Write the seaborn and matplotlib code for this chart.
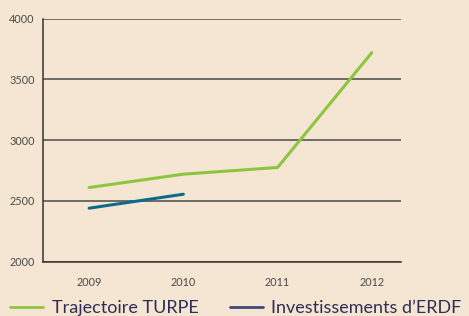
import matplotlib
matplotlib.use("Agg")
import matplotlib.pyplot as plt
import seaborn as sns
import pandas as pd
from matplotlib.lines import Line2D

years_turpe = [2009, 2010, 2011, 2012]
turpe = [2610, 2720, 2775, 3720]
years_erdf = [2009, 2010]
erdf = [2440, 2555]
series_names = ["Trajectoire TURPE", "Investissements d\u2019ERDF"]
yticks = [2000, 2500, 3000, 3500, 4000]
xticks = [2009, 2010, 2011, 2012]

bg = "#f5e6d3"
line_colors = ["#8cc63f", "#0e6a8c"]
legend_colors = ["#8cc63f", "#3d4a7a"]

df = pd.DataFrame({
    "year": years_turpe + years_erdf,
    "value": turpe + erdf,
    "series": [series_names[0]] * len(turpe) + [series_names[1]] * len(erdf),
})

sns.set_theme(style="white")
plt.rcParams["font.family"] = ["Lato", "DejaVu Sans"]

fig = plt.figure(figsize=(4.69, 3.16), dpi=100, facecolor=bg)
ax = fig.add_axes([0.0917, 0.172, 0.855 - 0.0917, 0.941 - 0.172])
ax.set_facecolor(bg)

sns.lineplot(data=df, x="year", y="value", hue="series",
             palette=dict(zip(series_names, line_colors)),
             linewidth=2.2, ax=ax, legend=False)

ax.set_xlim(2008.51, 2012.31)
ax.set_ylim(2000, 4000)
ax.set_yticks(yticks)
ax.set_xticks(xticks)
ax.set_xticklabels([str(x) for x in xticks])
ax.set_xlabel("")
ax.set_ylabel("")
ax.yaxis.grid(True, color="#4d4a48", linewidth=1.1)
ax.set_axisbelow(True)
for s in ["top", "right"]:
    ax.spines[s].set_visible(False)
for s in ["left", "bottom"]:
    ax.spines[s].set_color("#333333")
    ax.spines[s].set_linewidth(1.1)
ax.tick_params(axis="y", length=0, pad=6, labelsize=7.8, labelcolor="#4a4a4a")
ax.tick_params(axis="x", direction="in", length=4, width=1, color="#555555",
               pad=11, labelsize=7.8, labelcolor="#4a4a4a")

handles = [Line2D([0], [0], color=c, linewidth=2.0) for c in legend_colors]
leg = fig.legend(handles, series_names, loc="lower left",
                 bbox_to_anchor=(10 / 469, 0.0), ncol=2, frameon=False,
                 fontsize=13, handlelength=1.85, handletextpad=0.45,
                 columnspacing=1.75, borderpad=0, borderaxespad=0)
for t in leg.get_texts():
    t.set_color("#2e2d55")

fig.savefig("out.png", dpi=100, facecolor=bg)
